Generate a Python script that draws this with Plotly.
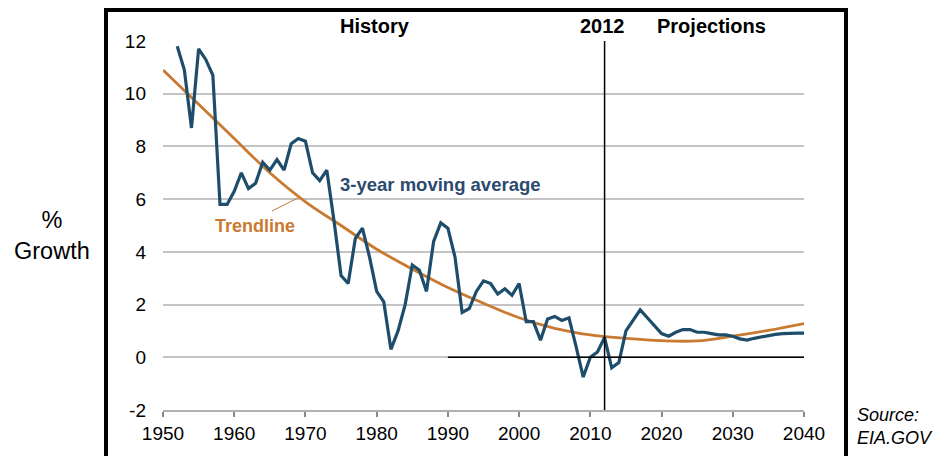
import plotly.graph_objects as go

# 3-year moving average of growth (%)
ma_years = list(range(1952, 2041))
ma_values = [
    11.8, 10.9, 8.7, 11.7, 11.3, 10.7, 5.8, 5.8, 6.3, 7.0,      # 1952-1961
    6.4, 6.6, 7.4, 7.1, 7.5, 7.1, 8.1, 8.3, 8.2, 7.0,           # 1962-1971
    6.7, 7.1, 5.2, 3.1, 2.8, 4.5, 4.9, 3.8, 2.5, 2.1,           # 1972-1981
    0.3, 1.0, 2.0, 3.5, 3.3, 2.5, 4.4, 5.1, 4.9, 3.8,           # 1982-1991
    1.7, 1.85, 2.5, 2.9, 2.8, 2.4, 2.6, 2.35, 2.8, 1.35,        # 1992-2001
    1.35, 0.65, 1.45, 1.55, 1.4, 1.5, 0.4, -0.75, 0.0, 0.2,     # 2002-2011
    0.75, -0.4, -0.2, 1.0, 1.4, 1.8, 1.5, 1.2, 0.9, 0.8,        # 2012-2021
    0.95, 1.05, 1.05, 0.95, 0.95, 0.9, 0.85, 0.85, 0.8, 0.7,    # 2022-2031
    0.65, 0.72, 0.78, 0.84, 0.87, 0.9, 0.92, 0.92, 0.92,        # 2032-2040
]

# Trendline, read every five years
trend_years = list(range(1950, 2041, 5))
trend_values = [10.9, 9.6, 8.3, 7.0, 5.9, 5.0, 4.1, 3.35, 2.65, 2.05,
                1.5, 1.1, 0.85, 0.72, 0.63, 0.62, 0.8, 1.02, 1.28]

x_ticks = list(range(1950, 2041, 10))
y_ticks = list(range(-2, 13, 2))
y_ticktext = [str(v) for v in y_ticks]  # plain hyphen for "-2"

BLUE = "#1d4d6b"
ORANGE = "#c97a30"
FONT = "Liberation Sans, Arial, sans-serif"

# plot area in pixels
W, H = 942, 456
L, R, T, B = 163, 138, 41, 46


def px_x(px):
    return (px - L) / (W - L - R)


def px_y(py):
    return (H - B - py) / (H - T - B)


fig = go.Figure()
fig.add_trace(go.Scatter(x=trend_years, y=trend_values, mode="lines",
                         line=dict(color=ORANGE, width=2.8, shape="spline"),
                         hoverinfo="skip"))
fig.add_trace(go.Scatter(x=ma_years, y=ma_values, mode="lines",
                         line=dict(color=BLUE, width=3.2)))

shapes = [
    # black zero line in the right part
    dict(type="line", xref="x", yref="y", x0=1990, x1=2040, y0=0, y1=0,
         line=dict(color="black", width=1.5)),
    # 2012 divider
    dict(type="line", xref="x", yref="y", x0=2012, x1=2012, y0=-2, y1=12,
         line=dict(color="black", width=1.5)),
    # leader line for the trendline label
    dict(type="line", xref="x", yref="y", x0=1965.3, x1=1969.0, y0=5.55, y1=6.05,
         line=dict(color=ORANGE, width=1)),
    # outer frame
    dict(type="rect", xref="paper", yref="paper",
         x0=px_x(106), x1=px_x(846), y0=px_y(470), y1=px_y(10),
         line=dict(color="black", width=4)),
]

top = dict(xref="x", yref="paper", y=px_y(26), yanchor="middle",
           showarrow=False, font=dict(size=20, color="black"))

annotations = [
    dict(top, text="<b>History</b>", x=1979.7),
    dict(top, text="<b>2012</b>", x=2011.7),
    dict(top, text="<b>Projections</b>", x=2027.0),
    dict(text="<b>3-year moving average</b>", x=1988.9, y=6.56, xref="x", yref="y",
         showarrow=False, font=dict(size=18.5, color="#2b4a6e")),
    dict(text="<b>Trendline</b>", x=1962.9, y=5.0, xref="x", yref="y",
         showarrow=False, font=dict(size=18, color=ORANGE)),
    dict(text="%<br>Growth", x=px_x(52), y=px_y(235), xref="paper", yref="paper",
         xanchor="center", yanchor="middle",
         showarrow=False, font=dict(size=23.5, color="black")),
    dict(text="<i>Source:<br>EIA.GOV</i>", x=px_x(855), y=px_y(427),
         xref="paper", yref="paper", xanchor="left", yanchor="middle", align="left",
         showarrow=False, font=dict(size=18, color="black")),
]

fig.update_layout(
    width=W, height=H,
    margin=dict(l=L, r=R, t=T, b=B),
    paper_bgcolor="white",
    plot_bgcolor="white",
    showlegend=False,
    font=dict(family=FONT, size=19, color="black"),
    shapes=shapes,
    annotations=annotations,
    xaxis=dict(range=[1950, 2040], tickvals=x_ticks, showgrid=False,
               zeroline=False, showline=True, linecolor="#b0b0b0", linewidth=2,
               ticks="outside", ticklen=5, tickwidth=2, tickcolor="#888888",
               tickfont=dict(size=19)),
    yaxis=dict(range=[-2, 12], tickvals=y_ticks, ticktext=y_ticktext,
               showgrid=True, gridcolor="#c4c4c4", gridwidth=2, zeroline=False,
               showline=False, ticks="", ticklabelstandoff=16,
               tickfont=dict(size=19)),
)

# drop the default page margin so the figure sits at the window's corner
fig.write_html("out.html", config={"displayModeBar": False},
               post_script="document.body.style.margin='0';")
